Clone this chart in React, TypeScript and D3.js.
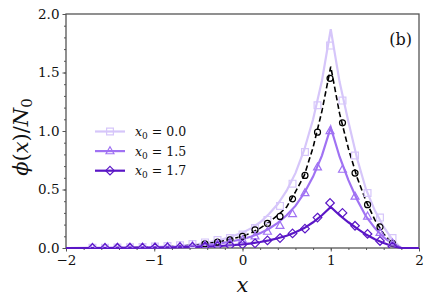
import React, { Component } from "react";
import * as d3 from "d3";

// sample grid for the solid / dashed curves
const lineX = [-2, -1.5, -1, -0.75, -0.5, -0.25, 0, 0.1, 0.2, 0.3, 0.4, 0.5, 0.6, 0.7, 0.8, 0.9, 1.0, 1.1, 1.2, 1.3, 1.4, 1.5, 1.6, 1.7, 1.8, 2.0];
const lineX00 = [0, 0.002, 0.009, 0.017, 0.034, 0.067, 0.13, 0.17, 0.22, 0.29, 0.376, 0.49, 0.64, 0.84, 1.1, 1.43, 1.87, 1.42, 1.08, 0.76, 0.5, 0.32, 0.18, 0.07, 0, 0];
const lineX15 = [0, 0.001, 0.005, 0.01, 0.02, 0.039, 0.075, 0.098, 0.127, 0.165, 0.215, 0.28, 0.36, 0.47, 0.61, 0.79, 1.03, 0.78, 0.58, 0.41, 0.27, 0.17, 0.09, 0.035, 0, 0];
const lineX17 = [0, 0, 0.002, 0.005, 0.009, 0.017, 0.031, 0.04, 0.051, 0.065, 0.083, 0.105, 0.135, 0.17, 0.22, 0.28, 0.35, 0.28, 0.22, 0.165, 0.115, 0.075, 0.042, 0.015, 0, 0];
const lineRef = [0, 0.002, 0.007, 0.014, 0.028, 0.055, 0.1, 0.13, 0.17, 0.22, 0.28, 0.35, 0.48, 0.62, 0.86, 1.17, 1.55, 1.15, 0.85, 0.6, 0.4, 0.24, 0.12, 0.04, 0, 0];

// marker positions
const markX = [-1.7, -1.558, -1.417, -1.275, -1.133, -0.992, -0.85, -0.708, -0.567, -0.425, -0.283, -0.142, 0, 0.142, 0.283, 0.425, 0.567, 0.708, 0.85, 0.992, 1.133, 1.275, 1.417, 1.558, 1.7];
const markX00 = [0.002, 0.003, 0.004, 0.006, 0.008, 0.012, 0.017, 0.024, 0.034, 0.048, 0.068, 0.085, 0.115, 0.17, 0.24, 0.36, 0.55, 0.82, 1.22, 1.73, 1.26, 0.79, 0.47, 0.26, 0.085];
const markX15 = [0.001, 0.001, 0.002, 0.003, 0.004, 0.006, 0.008, 0.012, 0.017, 0.024, 0.034, 0.048, 0.068, 0.1, 0.14, 0.19, 0.29, 0.47, 0.69, 1.0, 0.67, 0.44, 0.27, 0.13, 0.04];
const markX17 = [0.001, 0.001, 0.002, 0.002, 0.003, 0.004, 0.005, 0.007, 0.009, 0.012, 0.016, 0.022, 0.03, 0.04, 0.065, 0.085, 0.125, 0.165, 0.26, 0.385, 0.3, 0.19, 0.12, 0.06, 0.012];
const circX = [-0.425, -0.283, -0.142, 0, 0.142, 0.283, 0.425, 0.567, 0.708, 0.85, 0.992, 1.133, 1.275, 1.417, 1.558, 1.7];
const circY = [0.035, 0.05, 0.07, 0.1, 0.155, 0.21, 0.27, 0.42, 0.62, 0.99, 1.45, 1.07, 0.64, 0.37, 0.18, 0.04];

const yTicks = [0, 0.5, 1, 1.5, 2];
const xTicks = [-2, -1, 0, 1, 2];
const legendLabels = ["0.0", "1.5", "1.7"];

const colors = ["#d6c6fa", "#a072f3", "#5a16c6"];
const FONT = "DejaVu Serif";

const W = 431;
const H = 306;

type Pt = [number, number];

function markerPath(kind: string, cx: number, cy: number) {
  const p = d3.path();
  if (kind === "square") {
    const s = 3.4;
    p.rect(cx - s, cy - s, 2 * s, 2 * s);
  } else if (kind === "triangle") {
    const s = 4.4;
    p.moveTo(cx, cy - s);
    p.lineTo(cx + s * 0.9, cy + s * 0.6);
    p.lineTo(cx - s * 0.9, cy + s * 0.6);
    p.closePath();
  } else if (kind === "diamond") {
    const s = 4.3;
    p.moveTo(cx, cy - s);
    p.lineTo(cx + s, cy);
    p.lineTo(cx, cy + s);
    p.lineTo(cx - s, cy);
    p.closePath();
  } else {
    p.moveTo(cx + 3, cy);
    p.arc(cx, cy, 3, 0, Math.PI * 2);
  }
  return p.toString();
}

class App extends Component {
  ref = React.createRef<SVGSVGElement>();

  componentDidMount() {
    this.draw();
  }

  draw = () => {
    const svg = d3.select(this.ref.current);
    svg.selectAll("*").remove();

    const x = d3.scaleLinear().domain([-2, 2]).range([66, 419]);
    const y = d3.scaleLinear().domain([0, 2]).range([248, 14]);

    svg
      .append("defs")
      .append("clipPath")
      .attr("id", "plotclip")
      .append("rect")
      .attr("x", x(-2))
      .attr("y", y(2))
      .attr("width", x(2) - x(-2))
      .attr("height", y(0) - y(2));

    // spines
    const spine = "#555";
    svg
      .append("rect")
      .attr("x", x(-2))
      .attr("y", y(2))
      .attr("width", x(2) - x(-2))
      .attr("height", y(0) - y(2))
      .attr("fill", "none")
      .attr("stroke", spine)
      .attr("stroke-width", 1.3);

    // axes
    const yMajor = d3.axisLeft(y).tickValues(yTicks).tickFormat(d3.format(".1f")).tickSize(3.5).tickPadding(3);
    const yMinor = d3.axisLeft(y).tickValues(d3.range(0, 2.001, 0.1)).tickFormat(() => "").tickSize(2);
    const xMajor = d3.axisBottom(x).tickValues(xTicks).tickFormat(d3.format("d")).tickSize(3.5).tickPadding(4);
    const xMinor = d3.axisBottom(x).tickValues(d3.range(-2, 2.001, 0.2)).tickFormat(() => "").tickSize(2);

    const gy = svg.append("g").attr("transform", `translate(${x(-2)},0)`);
    gy.append("g").call(yMinor);
    gy.append("g").call(yMajor);
    const gx = svg.append("g").attr("transform", `translate(0,${y(0)})`);
    gx.append("g").call(xMinor);
    gx.append("g").call(xMajor);
    svg.selectAll(".domain").remove();
    svg.selectAll("g").attr("font-family", FONT);
    svg.selectAll(".tick line").attr("stroke", spine).attr("stroke-width", 1);
    svg
      .selectAll(".tick text")
      .attr("fill", "#111")
      .attr("font-family", FONT)
      .attr("font-size", 13.5);

    const line = d3
      .line<Pt>()
      .x((d) => x(d[0]))
      .y((d) => y(d[1]));

    const zip = (xs: number[], ys: number[]) => xs.map((v, i) => [v, ys[i]] as Pt);

    const data = svg.append("g");

    // x0 = 0.0
    data
      .append("path")
      .attr("d", line(zip(lineX, lineX00)))
      .attr("fill", "none")
      .attr("stroke", colors[0])
      .attr("stroke-width", 2.2);

    // reference dashed
    data
      .append("path")
      .attr("d", line(zip(lineX, lineRef)))
      .attr("fill", "none")
      .attr("stroke", "#000")
      .attr("stroke-width", 1.6)
      .attr("stroke-dasharray", "5.5,3");

    data
      .append("path")
      .attr("d", line(zip(lineX, lineX15)))
      .attr("fill", "none")
      .attr("stroke", colors[1])
      .attr("stroke-width", 2.2);

    data
      .append("path")
      .attr("d", line(zip(lineX, lineX17)))
      .attr("fill", "none")
      .attr("stroke", colors[2])
      .attr("stroke-width", 2.2);

    const marks = svg.append("g").attr("clip-path", "url(#plotclip)");
    const addMarks = (pts: Pt[], kind: string, color: string) => {
      marks
        .append("g")
        .selectAll("path")
        .data(pts)
        .join("path")
        .attr("d", (d) => markerPath(kind, x(d[0]), y(d[1])))
        .attr("fill", "none")
        .attr("stroke", color)
        .attr("stroke-width", 1.2);
    };
    addMarks(zip(markX, markX00), "square", colors[0]);
    addMarks(zip(circX, circY), "circle", "#000");
    addMarks(zip(markX, markX15), "triangle", colors[1]);
    addMarks(zip(markX, markX17), "diamond", colors[2]);

    // legend
    const kinds = ["square", "triangle", "diamond"];
    const leg = svg.append("g");
    legendLabels.forEach((lab, i) => {
      const ly = 131.5 + i * 19.6;
      leg
        .append("line")
        .attr("x1", 95)
        .attr("x2", 125)
        .attr("y1", ly)
        .attr("y2", ly)
        .attr("stroke", colors[i])
        .attr("stroke-width", 2.2);
      leg
        .append("path")
        .attr("d", markerPath(kinds[i], 110, ly))
        .attr("fill", "none")
        .attr("stroke", colors[i])
        .attr("stroke-width", 1.2);
      const t = leg
        .append("text")
        .attr("x", 135)
        .attr("y", ly + 4.5)
        .attr("fill", "#111")
        .attr("font-family", FONT)
        .attr("font-size", 12.5);
      t.append("tspan").attr("font-style", "italic").text("x");
      t.append("tspan").attr("dy", 3).attr("font-size", 9).text("0");
      t.append("tspan").attr("dy", -3).text(` = ${lab}`);
    });

    // panel label
    svg
      .append("text")
      .attr("x", 412)
      .attr("y", 45)
      .attr("text-anchor", "end")
      .attr("fill", "#111")
      .attr("font-family", FONT)
      .attr("font-size", 16)
      .text("(b)");

    // axis titles
    svg
      .append("text")
      .attr("x", x(0))
      .attr("y", 292)
      .attr("text-anchor", "middle")
      .attr("fill", "#111")
      .attr("font-family", FONT)
      .attr("font-size", 21)
      .attr("font-style", "italic")
      .text("x");

    const yl = svg
      .append("text")
      .attr("transform", `translate(28,${(y(0) + y(2)) / 2 + 6}) rotate(-90)`)
      .attr("text-anchor", "middle")
      .attr("fill", "#111")
      .attr("font-family", FONT)
      .attr("font-size", 21);
    yl.append("tspan").attr("font-style", "italic").text("ϕ");
    yl.append("tspan").text("(");
    yl.append("tspan").attr("font-style", "italic").text("x");
    yl.append("tspan").text(")/");
    yl.append("tspan").attr("font-style", "italic").text("N");
    yl.append("tspan").attr("dy", 4).attr("font-size", 15).text("0");
  };

  render() {
    return (
      <svg
        ref={this.ref}
        width={W}
        height={H}
        style={{ position: "absolute", left: 0, top: 0, background: "#fff" }}
      />
    );
  }
}

export default App;
